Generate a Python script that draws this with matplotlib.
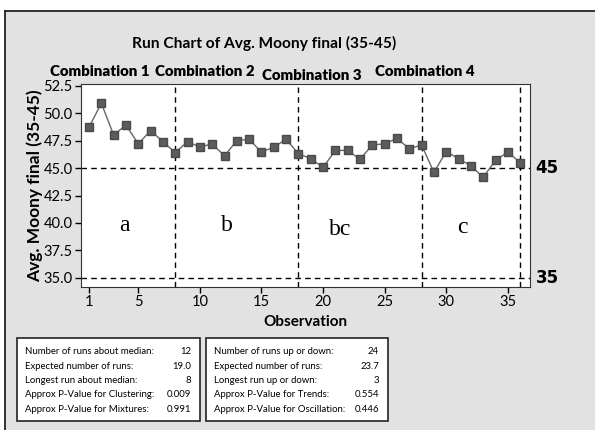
import matplotlib
matplotlib.use("Agg")
import matplotlib.pyplot as plt
from matplotlib.patches import Rectangle
from matplotlib.lines import Line2D

# Data
observation = list(range(1, 37))
moony = [48.7, 50.9, 48.0, 48.9, 47.2, 48.4, 47.4, 46.4, 47.4, 46.9,
         47.2, 46.1, 47.5, 47.6, 46.45, 46.9, 47.6, 46.3, 45.85, 45.05,
         46.6, 46.6, 45.8, 47.1, 47.2, 47.7, 46.75, 47.1, 44.6, 46.5,
         45.85, 45.2, 44.15, 45.7, 46.45, 45.5]
boundaries = [8, 18, 28, 36]
spec_limits = [45, 35]
group_titles = ["Combination 1", "Combination 2", "Combination 3", "Combination 4"]
group_letters = ["a", "b", "bc", "c"]

stats_left = [("Number of runs about median:", "12"),
              ("Expected number of runs:", "19.0"),
              ("Longest run about median:", "8"),
              ("Approx P-Value for Clustering:", "0.009"),
              ("Approx P-Value for Mixtures:", "0.991")]
stats_right = [("Number of runs up or down:", "24"),
               ("Expected number of runs:", "23.7"),
               ("Longest run up or down:", "3"),
               ("Approx P-Value for Trends:", "0.554"),
               ("Approx P-Value for Oscillation:", "0.446")]

W, H = 595, 430
plt.rcParams['font.family'] = ['Lato', 'DejaVu Sans']

fig = plt.figure(figsize=(W / 100, H / 100), dpi=100, facecolor="white")

def fx(px):
    return px / W

def fy(py):
    return 1 - py / H

# gray panel with its top/left border
fig.patches.append(Rectangle((fx(5), 0), 1, fy(11), transform=fig.transFigure,
                             facecolor="#e2e2e2", edgecolor="none", zorder=-5))
fig.add_artist(Line2D([fx(5), 1], [fy(11), fy(11)], transform=fig.transFigure,
                      color="#222222", lw=1.3))
fig.add_artist(Line2D([fx(5), fx(5)], [0, fy(11)], transform=fig.transFigure,
                      color="#222222", lw=1.3))

ax = fig.add_axes([fx(81), fy(287), fx(530) - fx(81), fy(84) - fy(287)])
ax.set_facecolor("white")

ax.plot(observation, moony, color="#666666", lw=1.0, zorder=2)
ax.plot(observation, moony, ls="none", marker="s", ms=6, color="#5c5c5c",
        mec="#4a4a4a", zorder=3)

for b in boundaries:
    ax.axvline(b, color="black", ls=(0, (4, 3)), lw=1.0, zorder=1)
for s in spec_limits:
    ax.axhline(s, color="black", ls=(0, (4, 3)), lw=1.0, zorder=1)
    ax.text(1.012, s, str(s), transform=ax.get_yaxis_transform(), ha="left",
            va="center", fontsize=12, fontweight="bold", family="DejaVu Sans")

ax.set_xlim(0.35, 36.8)
ax.set_ylim(34.18, 52.64)
ax.set_xticks([1, 5, 10, 15, 20, 25, 30, 35])
ax.set_yticks([35.0, 37.5, 40.0, 42.5, 45.0, 47.5, 50.0, 52.5])
ax.set_yticklabels([f"{v:.1f}" for v in ax.get_yticks()])
ax.tick_params(direction="out", length=4, width=1, labelsize=10.5, pad=2)
for sp in ax.spines.values():
    sp.set_color("#333333")

ax.set_xlabel("Observation", fontsize=11, fontweight="bold", labelpad=4)
ax.set_ylabel("Avg. Moony final (35-45)", fontsize=12.5, fontweight="bold", labelpad=0)

# group letters (placed by eye inside each combination)
letter_pos = [(3.85, 39.8), (12.2, 39.8), (21.4, 39.45), (31.3, 39.6)]
for (lx, ly), lab in zip(letter_pos, group_letters):
    ax.text(lx, ly, lab, ha="center", va="center", fontsize=17,
            family="Liberation Serif")

fig.text(fx(264), fy(43), "Run Chart of Avg. Moony final (35-45)", ha="center",
         va="center", fontsize=11.2, fontweight="bold")

title_pos = [(100, 72), (205, 72), (312, 76), (425, 72)]
for (tx, ty), t in zip(title_pos, group_titles):
    fig.text(fx(tx), fy(ty), t, ha="center", va="center", fontsize=10.8,
             fontweight="heavy")

# statistics boxes
def stats_box(x0, x1, rows):
    fig.patches.append(Rectangle((fx(x0), fy(421)), fx(x1) - fx(x0), fy(338) - fy(421),
                                 transform=fig.transFigure, facecolor="white",
                                 edgecolor="#222222", lw=1.2))
    for i, (lab, val) in enumerate(rows):
        yy = fy(352 + i * 14.3)
        fig.text(fx(x0 + 8), yy, lab, ha="left", va="center", fontsize=6.9)
        fig.text(fx(x1 - 9), yy, val, ha="right", va="center", fontsize=6.9)

stats_box(17, 200, stats_left)
stats_box(206, 388, stats_right)

fig.savefig("out.png", dpi=100, facecolor="white")
